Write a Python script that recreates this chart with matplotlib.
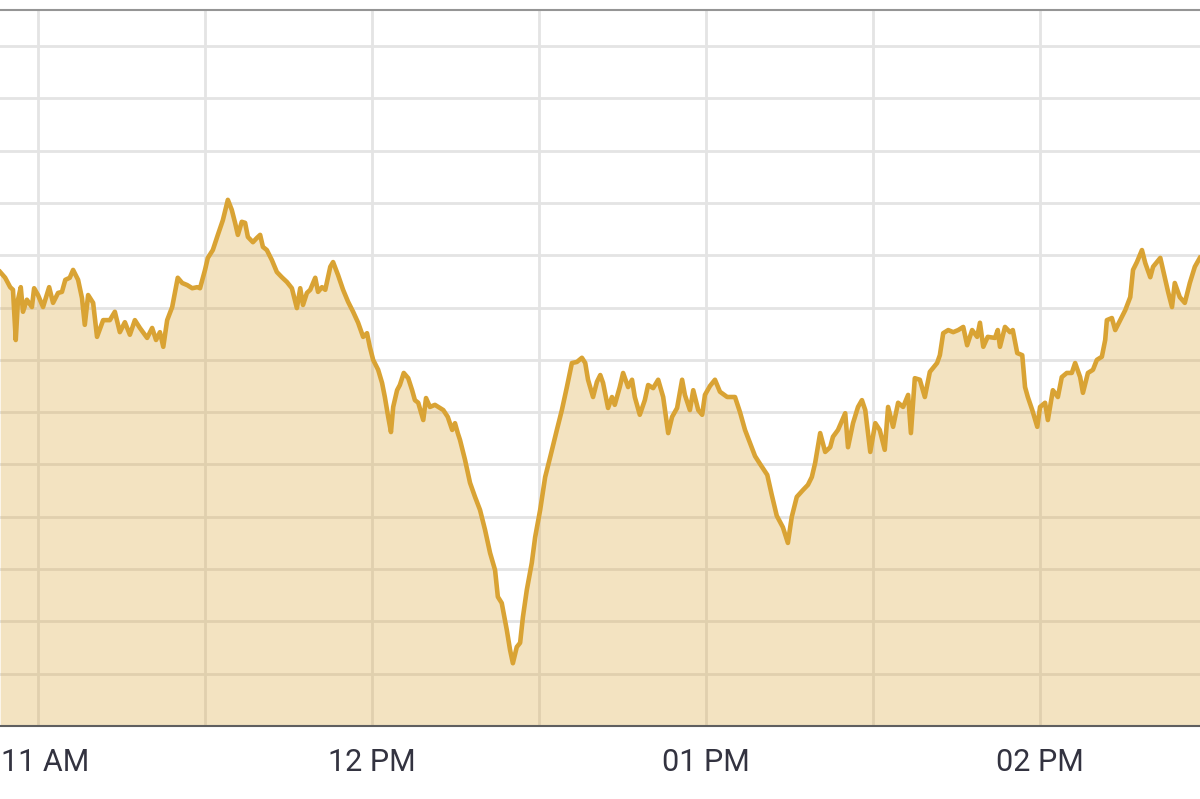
import numpy as np
import matplotlib
matplotlib.use('Agg')
import matplotlib.pyplot as plt

# minutes after 11:00 AM
minutes = [
    -6.8, -5.9, -5.0, -4.5, -4.0, -3.6, -3.1, -2.7, -2.0, -1.1,
    -0.7, 0.0, 0.9, 2.0, 2.7, 3.6, 4.3, 4.9, 5.7, 6.3,
    7.2, 7.9, 8.4, 9.0, 9.9, 10.6, 11.7, 12.9, 13.8, 14.7,
    15.6, 16.5, 17.4, 18.3, 19.6, 20.5, 21.2, 21.9, 22.5, 23.2,
    24.1, 25.1, 25.9, 26.8, 27.7, 28.6, 29.1,
    30.0, 30.5, 31.4, 32.3, 33.2, 34.1, 34.8, 35.4, 35.9, 36.6,
    37.2, 37.7, 38.6, 39.3, 39.9, 40.4, 41.1, 42.0, 42.9, 43.8,
    44.7, 45.6, 46.5, 47.1, 47.6, 48.3, 48.9, 49.8, 50.3, 51.0,
    51.6, 52.5, 53.0, 53.9, 54.8, 55.7, 56.6, 57.5, 58.4, 59.1,
    59.6, 60.2, 61.1, 61.8, 62.3, 62.9, 63.4, 63.8, 64.5, 65.0,
    65.7, 66.5, 67.2, 67.7, 68.3, 69.2, 69.7, 70.4, 71.3, 71.9,
    72.8, 73.6, 74.4, 74.9, 75.4, 75.8, 76.7, 77.6, 78.5, 79.4,
    80.3, 81.2, 82.1, 82.6, 83.3, 84.2, 84.8, 85.3, 86.0, 86.6,
    87.1, 87.8, 88.7, 89.3, 90.2, 91.1, 92.0, 93.2, 94.1, 95.0,
    95.9, 96.8, 97.7, 98.3, 98.8, 99.7, 100.4, 101.0,
    101.5, 102.4, 103.1, 103.6, 104.5, 105.1, 106.0, 106.7, 107.2, 108.1,
    109.0, 109.6, 110.5, 111.4, 112.3, 113.2, 113.9, 114.8, 115.7, 116.2,
    117.1, 117.7, 118.6, 119.3, 119.8, 120.7, 121.6, 122.5, 123.8, 125.2,
    126.1, 127.0, 127.9, 128.8, 129.7, 131.0, 131.8, 132.7, 133.8, 134.7,
    135.4, 136.3, 137.4,
    138.3, 139.0, 139.6, 140.5, 141.4, 142.3, 142.8, 143.7, 145.0, 145.5,
    146.4, 147.3, 148.0, 148.6, 149.5, 150.4, 151.2, 152.1, 152.7, 153.6,
    154.5, 155.4, 156.3, 156.8, 157.5, 158.4, 159.3, 160.2, 161.5, 162.0,
    162.6, 163.5, 164.4, 165.3, 166.2, 166.9, 167.8, 168.7, 169.2, 169.8,
    170.6, 171.9, 172.4, 172.8,
    173.7, 174.6, 175.1, 175.9, 176.8, 177.3, 177.8, 178.6, 179.5, 180.0,
    180.9, 181.4, 182.3, 183.2, 183.9, 184.8, 185.7, 186.3, 187.2, 187.7,
    188.6, 189.5, 190.2, 191.1, 191.7, 192.0, 192.9, 193.5, 194.4, 195.3,
    196.2, 196.7, 197.4, 198.3, 198.9, 199.8, 200.3, 201.6, 202.1, 203.0,
    203.7, 204.2, 205.1, 206.0, 206.9, 207.8, 208.7,
]

price = [
    8.68, 8.57, 8.39, 8.34, 7.38, 8.15, 8.39, 7.92, 8.15, 8.01,
    8.37, 8.24, 8.01, 8.39, 8.09, 8.28, 8.30, 8.53, 8.57, 8.72,
    8.53, 8.18, 7.67, 8.24, 8.09, 7.44, 7.76, 7.76, 7.92, 7.53,
    7.72, 7.48, 7.76, 7.61, 7.42, 7.61, 7.38, 7.53, 7.25, 7.76,
    8.01, 8.57, 8.47, 8.43, 8.37, 8.39, 8.37,
    8.72, 8.95, 9.10, 9.39, 9.67, 10.06, 9.87, 9.62, 9.39, 9.64,
    9.62, 9.35, 9.25, 9.33, 9.39, 9.16, 9.10, 8.91, 8.68, 8.58,
    8.49, 8.37, 7.99, 8.37, 8.05, 8.28, 8.34, 8.57, 8.30, 8.39,
    8.34, 8.78, 8.87, 8.62, 8.34, 8.11, 7.92, 7.71, 7.44, 7.51,
    7.25, 7.00, 6.81, 6.56, 6.29, 5.91, 5.62, 6.10, 6.42, 6.52,
    6.75, 6.65, 6.42, 6.23, 6.18, 5.85, 6.27, 6.10, 6.14, 6.10,
    6.04, 5.91, 5.66, 5.79, 5.60, 5.47, 5.09, 4.65, 4.38, 4.13,
    3.75, 3.31, 2.98, 2.47, 2.35, 1.84, 1.45, 1.20, 1.51, 1.59,
    2.08, 2.60, 3.12, 3.61, 4.13, 4.76, 5.14, 5.66, 6.04, 6.48,
    6.94, 6.96, 7.04, 6.94, 6.62, 6.29, 6.58, 6.71,
    6.56, 6.08, 6.29, 6.14, 6.48, 6.75, 6.48, 6.62, 6.29, 5.95,
    6.23, 6.52, 6.46, 6.62, 6.29, 5.60, 5.91, 6.08, 6.62, 6.33,
    6.04, 6.42, 6.04, 5.95, 6.33, 6.50, 6.62, 6.39, 6.29, 6.29,
    6.00, 5.66, 5.41, 5.16, 5.01, 4.80, 4.42, 4.02, 3.80, 3.50,
    4.00, 4.38, 4.51,
    4.61, 4.76, 5.03, 5.60, 5.24, 5.33, 5.53, 5.66, 5.98, 5.33,
    5.79, 6.10, 6.23, 6.04, 5.24, 5.79, 5.66, 5.28, 6.10, 5.72,
    6.18, 6.10, 6.33, 5.60, 6.65, 6.62, 6.29, 6.77, 6.94, 7.09,
    7.51, 7.57, 7.53, 7.57, 7.63, 7.28, 7.57, 7.44, 7.71, 7.25,
    7.44, 7.42, 7.57, 7.25,
    7.63, 7.53, 7.57, 7.13, 7.09, 6.48, 6.29, 6.04, 5.72, 6.10,
    6.18, 5.85, 6.42, 6.29, 6.67, 6.75, 6.75, 6.94, 6.67, 6.37,
    6.75, 6.81, 7.00, 7.06, 7.38, 7.76, 7.80, 7.57, 7.76, 7.95,
    8.20, 8.72, 8.87, 9.10, 8.85, 8.58, 8.78, 8.95, 8.72, 8.30,
    8.01, 8.47, 8.20, 8.09, 8.47, 8.78, 8.95,
]

# half-hour grid, labels only on the hour
grid_x = [0, 30, 60, 90, 120, 150, 180]
tick_labels = ['', '', '12 PM', '', '01 PM', '', '02 PM']
first_label = '11 AM'

gold = '#d9a334'
grid_col = '#e4e4e4'
lab_col = '#333340'

fig = plt.figure(figsize=(12, 7.99), dpi=100)
ax = fig.add_axes([0, 0.0914, 1, 0.8961])

ax.fill_between(minutes, price, 0, color=gold, alpha=0.3, linewidth=0, zorder=2)
ax.plot(minutes, price, color=gold, linewidth=3.3, solid_joinstyle='round', zorder=3)

ax.set_xlim(-6.83, 208.73)
ax.set_ylim(0, 13.69)

ax.set_xticks(grid_x)
ax.set_xticklabels(tick_labels, fontfamily='Roboto')
ax.set_yticks(np.arange(0, 14, 1))
ax.set_yticklabels([])

ax.grid(True, color=grid_col, linewidth=2.0)
ax.set_axisbelow(True)
ax.tick_params(axis='both', length=0)
ax.tick_params(axis='x', pad=16, labelsize=22, labelcolor=lab_col)

# the 11 AM label sits against the left edge, keep it inside the frame
fig.text(0.001, 0.0638, first_label, ha='left', va='top', fontsize=22,
         color=lab_col, family='Roboto')

ax.spines['left'].set_visible(False)
ax.spines['right'].set_visible(False)
ax.spines['top'].set_color('#959595')
ax.spines['top'].set_linewidth(1.5)
ax.spines['bottom'].set_color('#5f5f5f')
ax.spines['bottom'].set_linewidth(1.5)
ax.spines['bottom'].set_zorder(4)

fig.savefig('out.png', dpi=100)
